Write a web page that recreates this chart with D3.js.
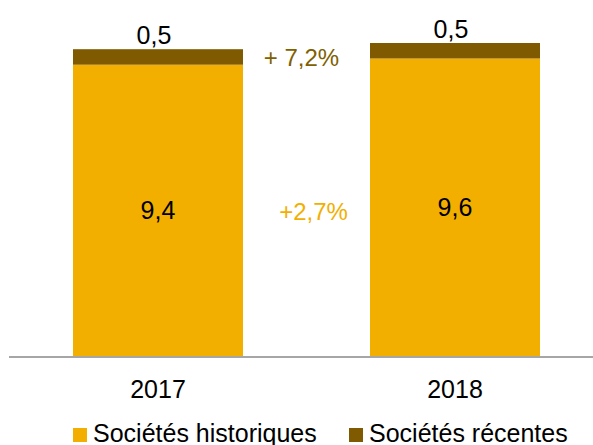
<!DOCTYPE html>
<html>
<head>
<meta charset="utf-8">
<script src="https://cdn.jsdelivr.net/npm/d3@7"></script>
<style>
  html, body { margin: 0; padding: 0; background: #fff; }
  svg { display: block; font-family: "Liberation Sans", Arial, sans-serif; }
</style>
</head>
<body>
<svg id="chart" width="593" height="445"></svg>
<script>
// Chiffre d'affaires par année (historiques + récentes)
const years = ["2017", "2018"];
const historiques = [9.4, 9.6];
const recentes = [0.5, 0.5];
const seriesNames = ["Sociétés historiques", "Sociétés récentes"];
const growthRecentes = "+ 7,2%";
const growthHistoriques = "+2,7%";

const colors = { historiques: "#F2AF00", recentes: "#7F5A00", recText: "#806000" };
const fmt = v => String(v).replace(".", ",");

const svg = d3.select("#chart");
const baseY = 356;

const x = d3.scaleBand().domain(years).range([10, 603]).paddingInner(0.4276).paddingOuter(0.2121);
const y = d3.scaleLinear().domain([0, 10.1]).range([baseY, 43]);

const rows = years.map((yr, i) => ({ year: yr, historiques: historiques[i], recentes: recentes[i] }));
const stack = d3.stack().keys(["historiques", "recentes"])(rows);

svg.append("g").selectAll("g")
  .data(stack)
  .join("g")
  .attr("fill", d => colors[d.key])
  .selectAll("rect")
  .data(d => d)
  .join("rect")
  .attr("x", d => x(d.data.year))
  .attr("y", d => y(d[1]))
  .attr("width", x.bandwidth())
  .attr("height", d => y(d[0]) - y(d[1]));

// axe horizontal
svg.append("line")
  .attr("x1", 9).attr("x2", 593)
  .attr("y1", baseY + 1).attr("y2", baseY + 1)
  .attr("stroke", "#a6a6a6").attr("stroke-width", 2);

// valeurs des sociétés historiques, au centre du segment
svg.append("g").selectAll("text")
  .data(rows)
  .join("text")
  .attr("x", d => x(d.year) + x.bandwidth() / 2)
  .attr("y", d => (y(0) + y(d.historiques)) / 2 + 9)
  .attr("text-anchor", "middle")
  .attr("font-size", 25)
  .attr("fill", "#000")
  .text(d => fmt(d.historiques));

// valeurs des sociétés récentes, au-dessus des barres
svg.append("g").selectAll("text")
  .data(rows)
  .join("text")
  .attr("x", d => x(d.year) + x.bandwidth() / 2 - 4)
  .attr("y", d => y(d.historiques + d.recentes) - 5)
  .attr("text-anchor", "middle")
  .attr("font-size", 25)
  .attr("fill", "#000")
  .text(d => fmt(d.recentes));

// étiquettes de l'axe
svg.append("g").selectAll("text")
  .data(years)
  .join("text")
  .attr("x", d => x(d) + x.bandwidth() / 2)
  .attr("y", 398)
  .attr("text-anchor", "middle")
  .attr("font-size", 25)
  .attr("fill", "#000")
  .text(d => d);

// taux de croissance
const midGap = (x(years[0]) + x.bandwidth() + x(years[1])) / 2;
svg.append("text")
  .attr("x", midGap - 5)
  .attr("y", 66)
  .attr("text-anchor", "middle")
  .attr("font-size", 24)
  .attr("fill", colors.recText)
  .text(growthRecentes);
svg.append("text")
  .attr("x", midGap + 7)
  .attr("y", 220)
  .attr("text-anchor", "middle")
  .attr("font-size", 24)
  .attr("fill", colors.historiques)
  .text(growthHistoriques);

// légende
const legend = svg.append("g");
const legendItems = [
  { name: seriesNames[0], color: colors.historiques, x: 73 },
  { name: seriesNames[1], color: colors.recentes, x: 349 }
];
legendItems.forEach(it => {
  legend.append("rect").attr("x", it.x).attr("y", 428).attr("width", 14).attr("height", 14).attr("fill", it.color);
  legend.append("text").attr("x", it.x + 20).attr("y", 442).attr("font-size", 25).attr("fill", "#000").text(it.name);
});
</script>
</body>
</html>
